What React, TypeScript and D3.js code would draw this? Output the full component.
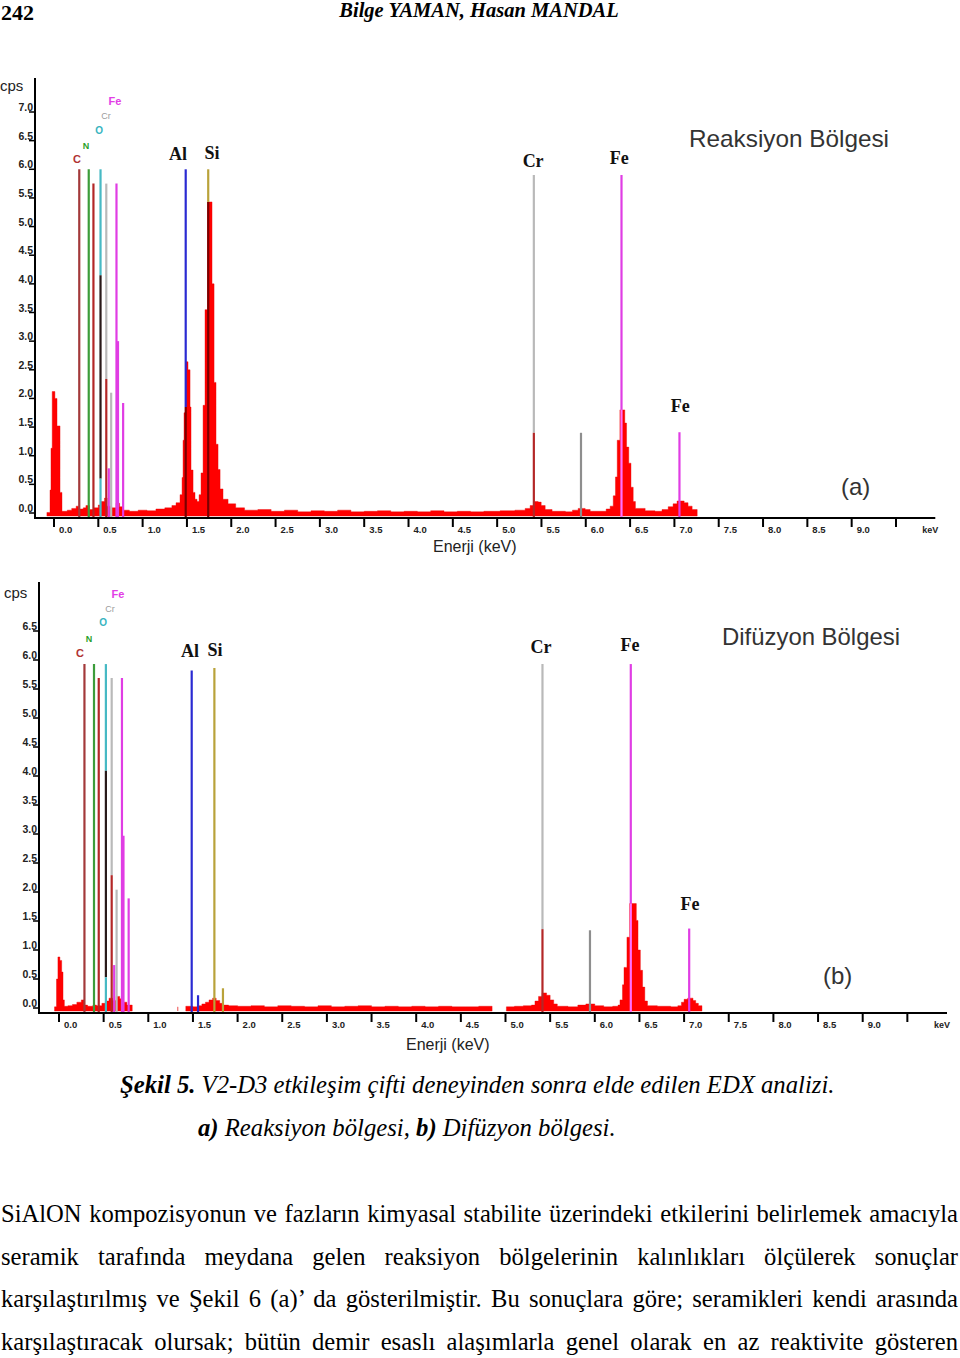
import React, { useLayoutEffect, useRef } from 'react';
import * as d3 from 'd3';

// energy axis (keV)
const xTickValues = [0, 0.5, 1, 1.5, 2, 2.5, 3, 3.5, 4, 4.5, 5, 5.5, 6, 6.5, 7, 7.5, 8, 8.5, 9, 9.5];
const xTickLabels = ['0.0', '0.5', '1.0', '1.5', '2.0', '2.5', '3.0', '3.5', '4.0', '4.5', '5.0', '5.5', '6.0', '6.5', '7.0', '7.5', '8.0', '8.5', '9.0', ''];

// counts axis (cps)
const yTicksA = [0, 0.5, 1, 1.5, 2, 2.5, 3, 3.5, 4, 4.5, 5, 5.5, 6, 6.5, 7];
const yTicksB = [0, 0.5, 1, 1.5, 2, 2.5, 3, 3.5, 4, 4.5, 5, 5.5, 6, 6.5];

type Pt = [number, number];
type Seg = [number, number, number, string];
type Lbl = [string, number, number, string];

// (a) Reaksiyon bölgesi: [keV, cps]
const spectrumA: Pt[] = [
  [-0.08, 0.01], [-0.045, 0.4], [-0.034, 1.13], [-0.02, 2.12], [0.01, 2.0], [0.034, 1.52], [0.068, 0.36], [0.09, 0.03],
  [0.15, 0.05], [0.2, 0.08], [0.25, 0.12], [0.28, 0.07], [0.33, 0.09], [0.36, 0.13], [0.4, 0.06], [0.45, 0.09],
  [0.5, 0.14], [0.53, 0.2], [0.57, 0.26], [0.6, 0.12], [0.65, 0.09], [0.7, 0.17], [0.74, 0.11], [0.78, 0.05],
  [0.85, 0.03], [0.95, 0.05], [1.05, 0.04], [1.15, 0.07], [1.25, 0.09], [1.33, 0.13],
  [1.377, 0.18], [1.422, 0.32], [1.445, 0.62], [1.456, 1.27], [1.467, 1.75], [1.484, 2.64], [1.512, 2.5],
  [1.535, 1.85], [1.546, 0.75], [1.569, 0.36], [1.591, 0.24], [1.614, 0.2],
  [1.637, 0.32], [1.659, 0.7], [1.682, 1.88], [1.704, 3.55], [1.733, 5.43], [1.783, 4.0], [1.806, 2.28],
  [1.828, 1.2], [1.851, 0.76], [1.874, 0.42], [1.907, 0.24], [1.964, 0.16],
  [2.05, 0.09], [2.15, 0.05], [2.3, 0.06], [2.45, 0.03], [2.6, 0.05], [2.75, 0.02], [2.9, 0.04], [3.05, 0.03],
  [3.2, 0.05], [3.35, 0.02], [3.5, 0.03], [3.65, 0.04], [3.8, 0.02], [3.95, 0.03], [4.1, 0.02], [4.25, 0.04],
  [4.4, 0.02], [4.55, 0.03], [4.7, 0.02], [4.85, 0.03],
  [5.034, 0.04], [5.2, 0.05], [5.316, 0.08], [5.372, 0.13], [5.418, 0.2], [5.463, 0.19], [5.497, 0.13],
  [5.542, 0.06], [5.62, 0.03], [5.77, 0.02], [5.85, 0.05], [5.914, 0.08], [5.993, 0.06], [6.05, 0.03],
  [6.16, 0.03], [6.23, 0.07], [6.275, 0.12],
  [6.31, 0.3], [6.335, 0.63], [6.355, 1.27], [6.385, 1.8], [6.44, 1.57], [6.46, 1.15], [6.485, 0.87],
  [6.51, 0.45], [6.535, 0.2], [6.56, 0.08], [6.67, 0.04], [6.78, 0.03],
  [6.86, 0.06], [6.93, 0.11], [6.985, 0.16], [7.03, 0.21], [7.11, 0.18], [7.154, 0.12], [7.2, 0.06],
  [7.257, 0.02], [7.29, 0],
];

// (b) Difüzyon bölgesi: [keV, cps]
const spectrumB: Pt[] = [
  [-0.05, 0.02], [-0.028, 0.5], [-0.012, 0.88], [0.01, 0.82], [0.03, 0.62], [0.045, 0.14], [0.06, 0.03],
  [0.1, 0.04], [0.15, 0.06], [0.2, 0.1], [0.25, 0.14], [0.28, 0.05], [0.32, 0.03], [0.38, 0.05], [0.42, 0.04],
  [0.48, 0.08], [0.52, 0.12], [0.56, 0.17], [0.6, 0.13], [0.64, 0.2], [0.68, 0.16], [0.72, 0.1], [0.76, 0.05],
  [0.82, 0.02], [0.9, 0],
  [1.33, 0.02], [1.38, 0], [1.42, 0.03], [1.5, 0.02], [1.56, 0.04], [1.6, 0.07], [1.64, 0.1], [1.68, 0.14],
  [1.72, 0.17], [1.76, 0.13], [1.8, 0.08], [1.84, 0.05], [1.9, 0.04],
  [2.0, 0.03], [2.15, 0.04], [2.3, 0.02], [2.45, 0.04], [2.6, 0.03], [2.75, 0.02], [2.9, 0.04], [3.05, 0.02],
  [3.2, 0.03], [3.35, 0.04], [3.5, 0.02], [3.65, 0.03], [3.8, 0.02], [3.95, 0.03], [4.1, 0.02], [4.25, 0.03],
  [4.4, 0.02], [4.55, 0.02], [4.7, 0.03], [4.85, 0.01], [4.89, 0],
  [5.01, 0.02], [5.1, 0.03], [5.2, 0.04], [5.29, 0.05], [5.33, 0.12], [5.37, 0.2], [5.41, 0.26], [5.46, 0.22],
  [5.5, 0.14], [5.54, 0.07], [5.58, 0.03], [5.7, 0.02], [5.81, 0.05], [5.9, 0.07], [6.0, 0.04], [6.1, 0.02],
  [6.2, 0.03], [6.26, 0.05], [6.282, 0.14], [6.31, 0.4], [6.327, 0.7], [6.36, 1.22], [6.39, 1.8], [6.465, 1.51],
  [6.484, 1.0], [6.51, 0.65], [6.535, 0.36], [6.56, 0.12], [6.59, 0.04], [6.7, 0.03], [6.85, 0.02],
  [6.93, 0.04], [6.97, 0.1], [7.0, 0.15], [7.04, 0.17], [7.1, 0.13], [7.13, 0.08], [7.16, 0.04], [7.2, 0.02],
  [7.23, 0],
];

// element marker segments: [keV, from cps, to cps, kind]
const markersA: Seg[] = [
  [0.285, 0, 6.0, 'C'], [0.392, 0, 6.0, 'N'], [0.445, 0, 5.75, 'Ti'],
  [0.525, 4.15, 6.0, 'O'], [0.525, 0.6, 4.15, 'black'], [0.525, 0, 0.6, 'O'],
  [0.59, 2.34, 5.75, 'Cr'], [0.59, 0, 2.34, 'Ti'],
  [0.618, 0, 0.78, 'Fe'], [0.645, 0, 2.1, 'Cr'],
  [0.705, 0, 5.75, 'Fe'], [0.722, 0, 3.0, 'Fe'], [0.78, 0, 1.92, 'Fe'],
  [1.486, 1.85, 6.0, 'Al'], [1.486, 0, 1.85, 'deep'],
  [1.74, 5.43, 6.0, 'Si'], [1.74, 0, 5.43, 'deep'],
  [5.414, 1.4, 5.9, 'Cr'], [5.414, 0, 1.4, 'Ti'],
  [5.946, 0, 1.4, 'CrK'],
  [6.403, 1.8, 5.9, 'Fe'], [6.403, 0, 1.8, 'pink'],
  [7.057, 0, 1.41, 'Fe'],
];

const markersB: Seg[] = [
  [0.285, 0, 5.93, 'C'], [0.392, 0, 5.93, 'N'], [0.445, 0, 5.69, 'Ti'],
  [0.525, 4.09, 5.93, 'O'], [0.525, 0.53, 4.09, 'black'], [0.525, 0, 0.53, 'O'],
  [0.59, 2.29, 5.69, 'Cr'], [0.59, 0, 2.29, 'Ti'],
  [0.618, 0, 0.74, 'Fe'], [0.645, 0, 2.04, 'Cr'],
  [0.705, 0, 5.69, 'Fe'], [0.722, 0, 2.97, 'Fe'], [0.78, 0, 1.89, 'Fe'],
  [1.486, 0, 5.82, 'Al'], [1.557, 0, 0.22, 'Al'],
  [1.74, 0, 5.86, 'Si'], [1.836, 0, 0.34, 'Si'],
  [5.414, 1.36, 5.93, 'Cr'], [5.414, 0, 1.36, 'Ti'],
  [5.946, 0, 1.34, 'CrK'],
  [6.403, 1.8, 5.93, 'Fe'], [6.403, 0, 1.8, 'pink'],
  [7.057, 0, 1.37, 'Fe'],
];

// element labels: [text, keV, cps, kind]
const labelsA: Lbl[] = [
  ['C', 0.26, 6.18, 'C'], ['N', 0.361, 6.4, 'N'], ['O', 0.508, 6.68, 'O'], ['Cr', 0.587, 6.93, 'Cr'], ['Fe', 0.688, 7.19, 'Fe'],
  ['Al', 1.4, 6.27, 'big'], ['Si', 1.783, 6.28, 'big'], ['Cr', 5.406, 6.14, 'big'], ['Fe', 6.377, 6.2, 'big'], ['Fe', 7.065, 1.87, 'big'],
];

const labelsB: Lbl[] = [
  ['C', 0.235, 6.12, 'C'], ['N', 0.336, 6.36, 'N'], ['O', 0.493, 6.64, 'O'], ['Cr', 0.571, 6.88, 'Cr'], ['Fe', 0.661, 7.14, 'Fe'],
  ['Al', 1.467, 6.16, 'big'], ['Si', 1.747, 6.17, 'big'], ['Cr', 5.397, 6.22, 'big'], ['Fe', 6.394, 6.26, 'big'], ['Fe', 7.066, 1.79, 'big'],
];

const paragraph = [
  'SiAlON kompozisyonun ve fazların kimyasal stabilite üzerindeki etkilerini belirlemek amacıyla',
  'seramik tarafında meydana gelen reaksiyon bölgelerinin kalınlıkları ölçülerek sonuçlar',
  'karşılaştırılmış ve Şekil 6 (a)’ da gösterilmiştir. Bu sonuçlara göre; seramikleri kendi arasında',
  'karşılaştıracak olursak; bütün demir esaslı alaşımlarla genel olarak en az reaktivite gösteren',
];

const lineColor: Record<string, string> = {
  C: '#a3393a', N: '#3c9c3a', Ti: '#b32727', O: '#47b9c4', Cr: '#b9b9b9', CrK: '#8e8e8e',
  Fe: '#e03de4', Al: '#2a2ad2', Si: '#b9a23a', black: '#2a1a1a', deep: '#7a0000', pink: '#ff70ff',
};
const labelColor: Record<string, string> = {
  C: '#b03232', N: '#2aa02a', O: '#36b4c0', Cr: '#9c9c9c', Fe: '#e23ee6',
};
const labelSize: Record<string, number> = { C: 11, N: 9, O: 10, Cr: 9, Fe: 11 };

const SANS = '"Liberation Sans", Arial, sans-serif';
const SERIF = '"Liberation Serif", "Times New Roman", serif';

interface PanelProps {
  spectrum: Pt[];
  markers: Seg[];
  labels: Lbl[];
  yTicks: number[];
  xRange: [number, number];
  yDomain: [number, number];
  yRange: [number, number];
  axisLeft: number;
  axisTop: number;
  axisY: number;
  cps: [number, number];
  title: string;
  titleX: number;
  titleY: number;
  titleW: number;
  tag: string;
  tagX: number;
  tagY: number;
  energyX: number;
  energyY: number;
}

const Panel: React.FC<PanelProps> = (p) => {
  const x = d3.scaleLinear().domain([0, 10]).range(p.xRange);
  const y = d3.scaleLinear().domain(p.yDomain).range(p.yRange);
  const base = y(0) + 3;

  const area = d3.area<Pt>()
    .defined((d) => d[1] > 0)
    .x((d) => x(d[0]))
    .y0(base)
    .y1((d) => y(d[1]))
    .curve(d3.curveStepAfter);

  const right = x(10) - 5;

  return (
    <g>
      <path d={area(p.spectrum) || ''} fill="#ff0000" stroke="#e80000" strokeWidth={0.4} />

      {p.markers.map((m, i) => (
        <line key={'m' + i} x1={x(m[0])} x2={x(m[0])}
          y1={m[1] === 0 ? p.axisY : y(m[1])} y2={y(m[2])}
          stroke={lineColor[m[3]]} strokeWidth={2.2} />
      ))}

      {/* axes */}
      <line x1={p.axisLeft} x2={p.axisLeft} y1={p.axisTop} y2={p.axisY + 1} stroke="#000" strokeWidth={2} />
      <line x1={p.axisLeft} x2={right} y1={p.axisY} y2={p.axisY} stroke="#000" strokeWidth={2} />

      {xTickValues.map((v, i) => (
        <g key={'x' + i}>
          <line x1={x(v)} x2={x(v)} y1={p.axisY} y2={p.axisY + 9} stroke="#000" strokeWidth={2} />
          <text x={x(v) + 5} y={p.axisY + 15} fontFamily={SANS} fontWeight="bold" fontSize={9.5} fill="#222">
            {xTickLabels[i]}
          </text>
        </g>
      ))}
      <text x={x(10) - 18} y={p.axisY + 15} fontFamily={SANS} fontWeight="bold" fontSize={9} fill="#222">keV</text>

      {p.yTicks.map((v) => (
        <g key={'y' + v}>
          <line x1={p.axisLeft - 6} x2={p.axisLeft} y1={y(v)} y2={y(v)} stroke="#000" strokeWidth={1.5} />
          <text x={p.axisLeft - 2} y={y(v) - 1} textAnchor="end" fontFamily={SANS} fontWeight="bold" fontSize={10.5} fill="#222">
            {v.toFixed(1)}
          </text>
        </g>
      ))}
      <text x={p.cps[0]} y={p.cps[1]} fontFamily={SANS} fontSize={15} fill="#222">cps</text>

      {p.labels.map((l, i) => l[3] === 'big' ? (
        <text key={'l' + i} x={x(l[1])} y={y(l[2])} textAnchor="middle" dominantBaseline="central"
          fontFamily={SERIF} fontWeight="bold" fontSize={18} fill="#111">{l[0]}</text>
      ) : (
        <text key={'l' + i} x={x(l[1])} y={y(l[2])} textAnchor="middle" dominantBaseline="central"
          fontFamily={SANS} fontWeight={l[3] === 'Cr' ? 'normal' : 'bold'} fontSize={labelSize[l[3]]}
          fill={labelColor[l[3]]}>{l[0]}</text>
      ))}

      <text x={p.titleX} y={p.titleY} fontFamily={SANS} fontSize={24} fill="#333"
        textLength={p.titleW} lengthAdjust="spacingAndGlyphs">{p.title}</text>
      <text x={p.tagX} y={p.tagY} fontFamily={SANS} fontSize={24} fill="#333">{p.tag}</text>
      <text x={p.energyX} y={p.energyY} fontFamily={SANS} fontSize={16} fill="#222">Enerji (keV)</text>
    </g>
  );
};

// justified line: spread the leftover width over the word gaps
const Justified: React.FC<{ text: string; x: number; y: number; width: number }> = ({ text, x, y, width }) => {
  const ref = useRef<SVGTextElement>(null);
  useLayoutEffect(() => {
    const el = ref.current;
    if (!el) return;
    el.setAttribute('word-spacing', '0');
    const natural = el.getComputedTextLength();
    const gaps = text.split(' ').length - 1;
    if (gaps > 0) el.setAttribute('word-spacing', String(Math.max(0, (width - natural) / gaps)));
  }, [text, width]);
  return (
    <text ref={ref} x={x} y={y} fontFamily={SERIF} fontSize={24.6} fill="#000">{text}</text>
  );
};

export default function App() {
  return (
    <svg width={960} height={1358} style={{ position: 'absolute', left: 0, top: 0, background: '#fff' }}>
      <rect width={960} height={1358} fill="#fff" />
      <text x={1} y={20} fontFamily={SERIF} fontWeight="bold" fontSize={22} fill="#000">242</text>
      <text x={479} y={17} textAnchor="middle" fontFamily={SERIF} fontWeight="bold" fontStyle="italic" fontSize={20.5} fill="#000">
        Bilge YAMAN, Hasan MANDAL
      </text>

      <Panel
        spectrum={spectrumA} markers={markersA} labels={labelsA} yTicks={yTicksA}
        xRange={[54, 940.3]} yDomain={[0, 7]} yRange={[513, 112]}
        axisLeft={35} axisTop={78} axisY={518} cps={[0, 91]}
        title="Reaksiyon Bölgesi" titleX={689} titleY={147} titleW={200}
        tag="(a)" tagX={841} tagY={495} energyX={433} energyY={552}
      />
      <Panel
        spectrum={spectrumB} markers={markersB} labels={labelsB} yTicks={yTicksB}
        xRange={[59, 952]} yDomain={[0, 6.5]} yRange={[1008, 631]}
        axisLeft={39} axisTop={582} axisY={1013} cps={[4, 598]}
        title="Difüzyon Bölgesi" titleX={722} titleY={645} titleW={178}
        tag="(b)" tagX={823} tagY={984} energyX={406} energyY={1050}
      />

      <text x={120} y={1093} fontFamily={SERIF} fontSize={24.7} fontStyle="italic" fill="#000">
        <tspan fontWeight="bold">Şekil 5.</tspan>
        <tspan> V2-D3 etkileşim çifti deneyinden sonra elde edilen EDX analizi.</tspan>
      </text>
      <text x={198} y={1136} fontFamily={SERIF} fontSize={24.7} fontStyle="italic" fill="#000">
        <tspan fontWeight="bold">a)</tspan>
        <tspan> Reaksiyon bölgesi, </tspan>
        <tspan fontWeight="bold">b)</tspan>
        <tspan> Difüzyon bölgesi.</tspan>
      </text>

      {paragraph.map((line, i) => (
        <Justified key={'p' + i} text={line} x={1} y={1222 + i * 42.7} width={957} />
      ))}
    </svg>
  );
}
